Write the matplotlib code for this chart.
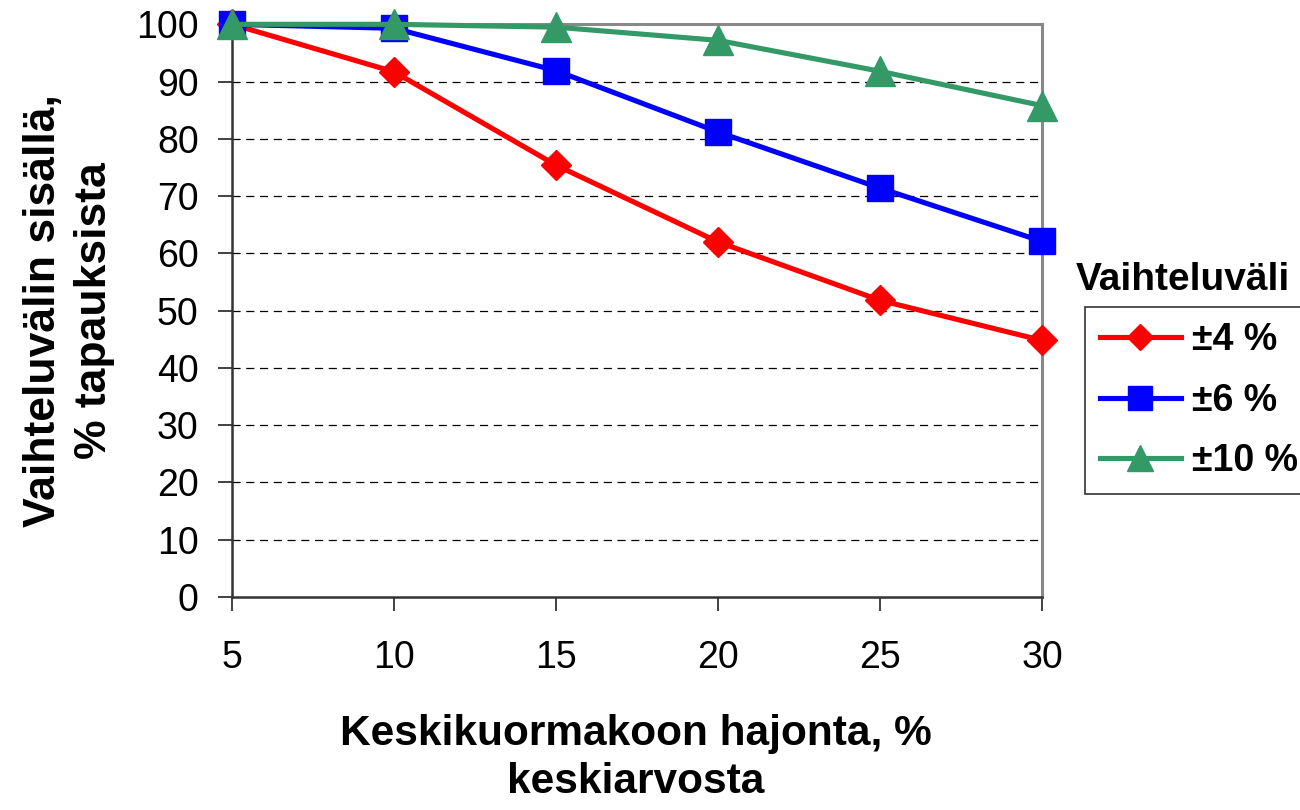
import matplotlib
matplotlib.use("Agg")
import matplotlib.pyplot as plt

plt.rcParams['font.family'] = ['Liberation Sans', 'DejaVu Sans']

x_vals = [5, 10, 15, 20, 25, 30]
red_4 = [100, 91.7, 75.4, 62.0, 51.8, 44.8]
blue_6 = [100, 99.3, 91.9, 81.2, 71.4, 62.1]
green_10 = [100, 100, 99.5, 97.2, 91.8, 85.8]
series_labels = ['±4 %', '±6 %', '±10 %']
y_ticks = list(range(0, 101, 10))

fig = plt.figure(figsize=(13, 8.1), dpi=100)
ax = fig.add_axes([0.1785, 0.263, 0.623, 0.707])

ax.set_xlim(5, 30)
ax.set_ylim(0, 100)

for y in y_ticks[1:-1]:
    ax.axhline(y, color='black', lw=0.9, ls=(0, (6.5, 4.5)), zorder=1)

lw = 3.7
ax.plot(x_vals, red_4, color='#FF0000', lw=lw, marker='D', ms=15,
        clip_on=False, zorder=3, label=series_labels[0])
ax.plot(x_vals, blue_6, color='#0000FF', lw=lw, marker='s', ms=19,
        clip_on=False, zorder=4, label=series_labels[1])
ax.plot(x_vals, green_10, color='#339966', lw=lw, marker='^', ms=21,
        clip_on=False, zorder=5, label=series_labels[2])

ax.set_xticks(x_vals)
ax.set_yticks(y_ticks)
ax.tick_params(axis='both', labelsize=27, length=10, width=1.3, color='#333333',
               direction='out')
ax.tick_params(axis='x', pad=21)
ax.tick_params(axis='y', pad=14)

for side in ['left', 'bottom']:
    ax.spines[side].set_color('#333333')
    ax.spines[side].set_linewidth(1.8)
for side in ['right', 'top']:
    ax.spines[side].set_color('#888888')
    ax.spines[side].set_linewidth(2.2)

fig.text(0.489, 0.064, 'Keskikuormakoon hajonta, %\nkeskiarvosta', ha='center',
         va='center', fontsize=30.5, fontweight='bold', linespacing=1.25)
fig.text(0.053, 0.617, 'Vaihteluvälin sisällä,\n% tapauksista', ha='center',
         va='center', rotation=90, fontsize=32, fontweight='bold', linespacing=1.3)

fig.text(0.91, 0.654, 'Vaihteluväli', ha='center', va='center', fontsize=28,
         fontweight='bold')

leg = fig.legend(loc='upper left', bbox_to_anchor=(0.8346, 0.621),
                 prop={'size': 27, 'weight': 'bold'}, frameon=True,
                 fancybox=False, edgecolor='black', borderpad=0.4,
                 handlelength=2.16, handletextpad=0.3, labelspacing=0.66,
                 markerscale=0.9, borderaxespad=0)
leg.get_frame().set_linewidth(1.2)

fig.savefig('out.png', dpi=100)
